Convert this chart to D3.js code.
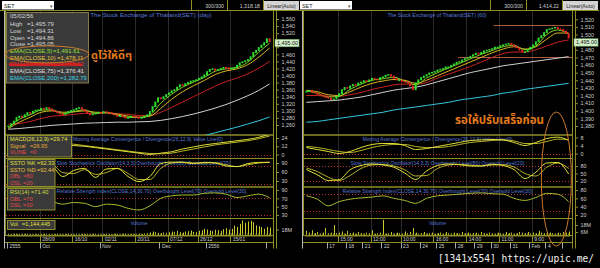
<!DOCTYPE html>
<html>
<head>
<meta charset="utf-8">
<script src="https://cdn.jsdelivr.net/npm/d3@7"></script>
<style>
  body { margin: 0; background: #000; }
  text { font-family: "Liberation Sans", Arial, sans-serif; }
</style>
</head>
<body>
<div id="my_dataviz"></div>
<script>
var width = 600
var height = 268

// ---------- SET daily (left) ----------
var closeDay = [
 1256,1262,1270,1280,1284,1281,1288,1294,1292,1298,
 1301,1302,1306,1304,1308,1305,1300,1297,1293,1290,
 1288,1292,1297,1300,1302,1306,1308,1303,1298,1292,
 1288,1290,1293,1295,1294,1297,1295,1294,1290,1287,
 1283,1285,1282,1279,1280,1284,1283,1281,1278,1280,
 1284,1288,1297,1311,1324,1336,1333,1339,1345,1350,
 1356,1359,1366,1373,1370,1376,1379,1383,1385,1387,
 1391,1395,1401,1410,1416,1418,1413,1416,1419,1422,
 1421,1417,1420,1421,1428,1435,1438,1441,1444,1452,
 1464,1470,1478,1485,1492,1503,1495
]
// lines below
var STEP = 4
var ema5Day   = [1252,1276,1289,1302,1303,1293,1298,1303,1293,1295,1288,1282,1281,1288,1322,1347,1367,1381,1395,1412,1419,1423,1438,1466,1491.6]
var ema10Day  = [1250,1268,1282,1296,1300,1296,1297,1300,1296,1295,1291,1285,1282,1285,1307,1333,1354,1371,1386,1403,1413,1419,1431,1452,1478.1]
var ema25Day  = [1262,1264,1270,1278,1285,1287,1290,1293,1293,1294,1292,1290,1287,1287,1296,1310,1325,1340,1355,1370,1383,1393,1405,1421,1440]
var ema75Day  = [1248,1250,1253,1256,1259,1261,1263,1265,1266,1267,1268,1268,1269,1270,1273,1278,1284,1291,1299,1308,1318,1330,1343,1358,1376.4]
var ema200Day = [1178,1180,1182,1185,1187,1189,1191,1193,1195,1197,1199,1201,1203,1205,1208,1212,1217,1223,1230,1238,1246,1254,1263,1272,1282.8]
var macdDay   = [14,16,17,18,17,15,13,12,10,8,6,4,2,0,2,4,8,11,14,16,18,20,22,25,29.74]
var signalDay = [12,14,15,16,17,16,15,13,11,9,7,5,3,1.5,1,2,5,8,11,14,16,18,20,23,26.95]
var stochKDay = [80,85,70,88,80,45,65,72,42,70,72,45,28,45,88,93,92,88,92,90,80,78,88,92,92.33]
var stochDDay = [78,82,76,82,84,58,55,68,52,58,72,55,35,35,72,90,93,90,90,91,84,78,84,90,92.44]
var rsiDay    = [62,66,64,66,62,56,60,58,50,56,54,46,42,52,70,76,78,78,82,83,80,72,76,80,71.4]
var volDay = [
 4,3,5,4,3,4,5,3,4,3,
 4,3,4,5,3,4,3,4,5,4,
 3,4,5,4,3,4,3,5,4,3,
 4,5,3,4,3,4,5,4,3,5,
 4,3,5,6,4,5,4,3,5,4,
 6,7,9,12,10,8,7,9,8,10,
 12,11,14,10,9,12,13,15,11,10,
 14,16,20,18,15,13,17,16,14,19,
 22,18,20,30,26,35,45,38,42,44,
 40,30,28,25,20,26,24
]
var priceTicksDay = [1560,1540,1520,1500,1480,1460,1440,1420,1400,1380,1360,1340,1320,1300,1280,1260]
var macdTicksDay = [24,12,0]
var stochTicksDay = [90,60,30]
var rsiTicksDay = [90,70,50,30]
var volTicksDay = [18]
var timeIdxDay = [12,24,35,47,59,70,82]
var timeLabDay = ["28/09","16/10","02/11","20/11","07/12","26/12","15/01"]
var monthIdxDay = [0,12,34,56,73,95]
var monthLabDay = ["2555","Oct","Nov","Dec","2556",""]
var legendLabDay = ["05/02/56","High","Low","Open","Close","EMA(CLOSE,5)","EMA(CLOSE,10)","EMA(CLOSE,25)","EMA(CLOSE,75)","EMA(CLOSE,200)"]
var legendValDay = ["","=1,495.79","=1,494.31","=1,494.86","=1,495.05","=1,491.61","=1,478.11","=1,439.52","=1,376.41","=1,282.79"]
var macdLegLab = ["MACD(26,12,9)","Signal","VLINE"]
var macdLegVal = ["=29.74","=26.95","=0"]
var stochLegLab = ["SSTO %K","SSTO %D","OBL","OSL"]
var stochLegVal = ["=92.33","=92.44","=80","=20"]
var rsiLegLab = ["RSI(14)","OBL","OSL"]
var rsiLegVal = ["=71.40","=70","=30"]
var volLegLab = ["Vol"]
var volLegVal = ["=1,144,445"]

// ---------- SET 60 min (right) ----------
var closeHour = [
 1425,1426,1424,1423,1421,1420,1419,1417,1416,1414,
 1415,1418,1422,1427,1430,1429,1432,1434,1433,1436,
 1437,1439,1438,1440,1442,1441,1440,1443,1444,1446,
 1447,1445,1442,1440,1440,1438,1437,1436,1432,1427,
 1436,1440,1443,1445,1447,1449,1450,1451,1453,1454,
 1455,1457,1457,1459,1461,1463,1464,1466,1468,1469,
 1471,1473,1475,1474,1476,1478,1479,1480,1481,1483,
 1483,1485,1486,1487,1488,1486,1484,1482,1479,1477,
 1477,1480,1483,1486,1490,1495,1498,1502,1506,1507,
 1508,1509,1507,1506,1504,1501,1495
]
var ema5Hour   = [1426,1423,1418,1419,1428,1435,1440,1442,1444,1439,1434,1443,1450,1456,1462,1468,1474,1479,1484,1486,1480,1485,1500,1506,1501]
var ema10Hour  = [1427,1425,1421,1420,1425,1431,1436,1439,1441,1440,1436,1440,1446,1452,1458,1464,1470,1476,1481,1484,1481,1484,1494,1502,1502]
var ema25Hour  = [1420,1420,1419,1419,1421,1424,1428,1431,1434,1435,1435,1437,1443,1448,1453,1458,1464,1470,1475,1477,1477,1480,1485,1490,1493]
var ema75Hour  = [1411,1412,1413,1414,1416,1418,1421,1424,1427,1429,1431,1434,1438,1442,1446,1450,1453,1456,1459,1461,1463,1465,1467,1469,1471]
var ema200Hour = [1385,1386,1388,1390,1392,1394,1396,1398,1401,1403,1405,1407,1409,1411,1414,1416,1418,1420,1423,1425,1428,1430,1432,1434,1436]
var macdHour   = [3,2,1,0,1,3,4.5,5,5,4,2,2.5,3.5,4.5,5.5,6.5,6.8,7,6.8,5.5,4,5.5,7.5,8.2,6.5]
var signalHour = [3.5,3,2,1,0.5,1.5,3,4,4.5,4.5,3.5,3,3,3.5,4.5,5.5,6,6.5,6.8,6.3,5,5,6,7.2,7]
var stochKHour = [66,45,22,25,65,82,88,84,75,52,26,60,82,88,85,80,80,87,82,66,30,55,92,94,48]
var stochDHour = [72,58,35,22,42,70,84,86,80,65,40,42,70,84,87,83,80,84,85,76,50,40,75,92,70]
var rsiHour    = [66,58,42,52,58,61,63,66,60,55,48,60,66,68,70,72,73,71,70,60,55,62,72,70,52]
var volHour = [
 8,5,9,4,6,3,5,13,4,5,
 18,4,5,7,3,8,4,5,3,6,
 4,3,5,4,9,3,4,5,27,3,
 4,6,3,5,4,3,7,4,6,13,
 5,3,4,6,3,4,5,3,4,5,
 3,6,4,3,5,4,3,6,4,5,
 3,4,5,3,6,4,3,5,4,3,
 5,4,3,6,4,5,3,4,6,5,
 4,6,3,5,4,8,5,4,6,5,
 4,3,5,4,6,5,7
]
var priceTicksHour = [1520,1510,1500,1490,1480,1470,1460,1450,1440,1430,1420,1410,1400,1390,1380]
var macdTicksHour = [8,4,0]
var stochTicksHour = [80,50,20]
var rsiTicksHour = [80,60,40,20]
var volTicksHour = [18,6]
var timeIdxHour = [12,24,35,47,59,71,83]
var timeLabHour = ["15:00","12:00","10:00","16:00","14:00","11:00","9:00"]
var dayIdxHour = [8,15,21,28,35,42,48,55,62,68,75,82,88,94]
var dayLabHour = ["17","18","21","22","23","24","25","28","29","30","31","Feb","4",""]
var levelsHour = [1512,1470]
var levelStartHour = [69,56]

var svg = d3.select("#my_dataviz")
  .append("svg")
    .attr("width", width)
    .attr("height", height)
    .style("display", "block")

svg.append("rect").attr("width", width).attr("height", height).attr("fill", "#000")

var olive = "#8e8e26"
var grey = "#cfcfcf"
var blue = "#5a78d6"
var emaColors = ["#86d424", "#d8b424", "#c82222", "#d2d2d2", "#34c6de"]

var charts = [
  { id: "day", x0: 5, x1: 273, close: closeDay,
    emas: [ema5Day, ema10Day, ema25Day, ema75Day, ema200Day],
    macd: macdDay, signal: signalDay, stochK: stochKDay, stochD: stochDDay, rsi: rsiDay, vol: volDay,
    priceTicks: priceTicksDay, priceRange: [125, 19],
    macdTicks: macdTicksDay, macdRange: [154.5, 138],
    stochTicks: stochTicksDay, stochRange: [181, 163],
    rsiTicks: rsiTicksDay, rsiRange: [215, 190],
    volTicks: volTicksDay, volRange: [235.5, 229.5],
    timeIdx: timeIdxDay, timeLab: timeLabDay, idx2: monthIdxDay, lab2: monthLabDay,
    title: "The Stock Exchange of Thailand(SET) (day)", titleX: 151, titleSize: 6.2, tagDy: 1,
    // indicator titles start right of the legend boxes
    subStart: { macd: 73, stoch: 56.5, rsi: 56.5 },
    head: ["300/300", "1,318.18"] },
  { id: "hour", x0: 303, x1: 572, close: closeHour,
    emas: [ema5Hour, ema10Hour, ema25Hour, ema75Hour, ema200Hour],
    macd: macdHour, signal: signalHour, stochK: stochKHour, stochD: stochDHour, rsi: rsiHour, vol: volHour,
    priceTicks: priceTicksHour, priceRange: [126, 19.3],
    macdTicks: macdTicksHour, macdRange: [153.5, 137.5],
    stochTicks: stochTicksHour, stochRange: [181, 166],
    rsiTicks: rsiTicksHour, rsiRange: [215, 190],
    volTicks: volTicksHour, volRange: [235.5, 225],
    timeIdx: timeIdxHour, timeLab: timeLabHour, idx2: dayIdxHour, lab2: dayLabHour,
    title: "The Stock Exchange of Thailand(SET) (60)", titleX: 437, titleSize: 5.2, tagDy: 4,
    subStart: {},
    head: ["300/300", "1,414.22"] }
]

var panel = { main: [10.5, 135], macd: [135, 158.5], stoch: [158.5, 187], rsi: [187, 218.5], vol: [218.5, 235.5] }

function drawChart(c) {
  var g = svg.append("g")
  var n = c.close.length
  var x = d3.scaleBand().domain(d3.range(n)).range([c.x0 + 2, c.x1 - 2])
  var cx = function(i) { return x(i) + x.bandwidth() / 2 }
  var sx = function(d, k) { return cx(Math.min(k * STEP, n - 1)) }
  var px = function(i) { return Math.round(x(i)) + 0.5 }

  var y = {
    main: d3.scaleLinear().domain(d3.extent(c.priceTicks)).range(c.priceRange),
    macd: d3.scaleLinear().domain(d3.extent(c.macdTicks)).range(c.macdRange),
    stoch: d3.scaleLinear().domain(d3.extent(c.stochTicks)).range(c.stochRange),
    rsi: d3.scaleLinear().domain(d3.extent(c.rsiTicks)).range(c.rsiRange),
    vol: d3.scaleLinear().domain([0, d3.max(c.volTicks)]).range(c.volRange)
  }

  var defs = g.append("defs")
  Object.keys(panel).forEach(function(k) {
    defs.append("clipPath").attr("id", "clip-" + c.id + "-" + k)
      .append("rect")
        .attr("x", c.x0).attr("y", panel[k][0])
        .attr("width", c.x1 - c.x0).attr("height", panel[k][1] - panel[k][0])
  })
  var clip = function(k) { return "url(#clip-" + c.id + "-" + k + ")" }

  // vertical grid
  g.append("g").selectAll("line").data(c.timeIdx).join("line")
    .attr("x1", px).attr("x2", px).attr("y1", 10.5).attr("y2", 235.5)
    .attr("stroke", "#2c2c2c")

  // panel frames
  Object.keys(panel).forEach(function(k) {
    g.append("rect")
      .attr("x", c.x0 + 0.5).attr("y", panel[k][0])
      .attr("width", c.x1 - c.x0).attr("height", panel[k][1] - panel[k][0])
      .attr("fill", "none").attr("stroke", olive).attr("stroke-width", 1)
  })

  // red dotted levels
  var levels = [["macd", 0], ["stoch", 80], ["stoch", 20], ["rsi", 70], ["rsi", 30]]
  g.append("g").selectAll("line").data(levels).join("line")
    .attr("x1", c.x0 + 1).attr("x2", c.x1)
    .attr("y1", function(d) { return Math.round(y[d[0]](d[1])) + 0.5 })
    .attr("y2", function(d) { return Math.round(y[d[0]](d[1])) + 0.5 })
    .attr("stroke", "#b83030").attr("stroke-dasharray", "1,2")

  // titles
  var mid = (c.x0 + c.x1) / 2
  var titles = [
    ["main", c.title, c.titleSize],
    ["macd", "Moving Average Convergence / Divergence(26,12,9) Value Line(0)", 5.1],
    ["stoch", "Slow Stochastics Oscillator(14,3,3) Overbought Level(80) Oversold Level(20)", 5.1],
    ["rsi", "Relative Strength Index(CLOSE,14,30,70) Overbought Level(70) Oversold Level(30)", 5.1],
    ["vol", "Volume", 5.1]
  ]
  g.append("g").selectAll("text").data(titles).join("text")
    .attr("x", function(d) {
      if (d[0] === "main") return c.titleX
      return c.subStart[d[0]] !== undefined ? c.subStart[d[0]] : mid
    })
    .attr("y", function(d) { return panel[d[0]][0] + 6 })
    .attr("text-anchor", function(d) { return c.subStart[d[0]] !== undefined ? "start" : "middle" })
    .attr("font-size", function(d) { return d[2] })
    .attr("fill", blue)
    .text(function(d) { return d[1] })

  // annotation levels (hand drawn)
  if (c.id === "hour") {
    g.append("g").selectAll("line").data(levelsHour).join("line")
      .attr("x1", function(d, i) { return x(levelStartHour[i]) }).attr("x2", c.x1)
      .attr("y1", function(d) { return Math.round(y.main(d)) + 0.5 })
      .attr("y2", function(d) { return Math.round(y.main(d)) + 0.5 })
      .attr("stroke", "#a85c3c").attr("stroke-width", 1)
  }

  // EMA lines
  var line = function(sc) {
    return d3.line().x(sx).y(function(d) { return sc(d) }).curve(d3.curveMonotoneX)
  }
  var emaG = g.append("g").attr("clip-path", clip("main"))
  c.emas.slice().reverse().forEach(function(s, j) {
    emaG.append("path").datum(s)
      .attr("d", line(y.main))
      .attr("fill", "none")
      .attr("stroke", emaColors[c.emas.length - 1 - j])
      .attr("stroke-width", 1)
  })

  // candles (body from previous close to close)
  var cw = x.bandwidth() * 0.72
  emaG.append("g").selectAll("rect").data(c.close).join("rect")
    .attr("x", function(d, i) { return cx(i) - cw / 2 })
    .attr("y", function(d, i) {
      var o = i ? c.close[i - 1] : d
      return y.main(Math.max(o, d)) - 0.8
    })
    .attr("width", cw)
    .attr("height", function(d, i) {
      var o = i ? c.close[i - 1] : d
      return Math.max(1.6, Math.abs(y.main(o) - y.main(d)) + 0.8)
    })
    .attr("fill", function(d, i) {
      var o = i ? c.close[i - 1] : d - 1
      return d >= o ? "#2ee02e" : "#e42424"
    })

  // MACD
  var mg = g.append("g").attr("clip-path", clip("macd"))
  mg.append("path").datum(c.signal).attr("d", line(y.macd)).attr("fill", "none").attr("stroke", "#b8b426")
  mg.append("path").datum(c.macd).attr("d", line(y.macd)).attr("fill", "none").attr("stroke", "#dede3a")

  // Stochastics
  var sg = g.append("g").attr("clip-path", clip("stoch"))
  sg.append("path").datum(c.stochD).attr("d", line(y.stoch)).attr("fill", "none").attr("stroke", "#b8b426")
  sg.append("path").datum(c.stochK).attr("d", line(y.stoch)).attr("fill", "none").attr("stroke", "#e4e43c")

  // RSI
  var rg = g.append("g").attr("clip-path", clip("rsi"))
  rg.append("path").datum(c.rsi).attr("d", line(y.rsi)).attr("fill", "none").attr("stroke", "#a8bc30")

  // Volume
  g.append("g").attr("clip-path", clip("vol")).selectAll("rect").data(c.vol).join("rect")
    .attr("x", function(d, i) { return Math.round(cx(i)) })
    .attr("y", function(d) { return y.vol(d) })
    .attr("width", 1)
    .attr("height", function(d) { return y.vol(0) - y.vol(d) })
    .attr("fill", "#c8c82a")

  // minor ticks along the time axis
  g.append("g").attr("transform", "translate(0,235.5)")
    .call(d3.axisTop(x).tickSize(2).tickSizeOuter(0).tickFormat(""))
    .call(function(a) { a.select(".domain").attr("stroke", olive) })
    .selectAll("line").attr("stroke", olive)

  // time axis rows
  g.append("line").attr("x1", c.x0).attr("x2", c.x1).attr("y1", 242.5).attr("y2", 242.5).attr("stroke", olive)
  g.append("g").selectAll("line").data(c.timeIdx).join("line")
    .attr("x1", px).attr("x2", px).attr("y1", 235.5).attr("y2", 242.5).attr("stroke", olive)
  g.append("g").selectAll("text").data(c.timeLab).join("text")
    .attr("x", function(d, i) { return x(c.timeIdx[i]) + 2.5 })
    .attr("y", 241.3).attr("font-size", 5).attr("fill", grey)
    .text(function(d) { return d })
  g.append("g").selectAll("line").data(c.idx2).join("line")
    .attr("x1", px).attr("x2", px).attr("y1", 242.5).attr("y2", 248.5).attr("stroke", "#a8a8a8")
  g.append("g").selectAll("text").data(c.lab2).join("text")
    .attr("x", function(d, i) { return x(c.idx2[i]) + 2.5 })
    .attr("y", 247.8).attr("font-size", 5).attr("fill", grey)
    .text(function(d) { return d })

  // left edge
  g.append("line").attr("x1", c.x0 - 0.5).attr("x2", c.x0 - 0.5).attr("y1", 10.5).attr("y2", 248.5).attr("stroke", "#b8b8b8")

  // y axes
  var last = c.close[n - 1]
  var tagY = y.main(last) + c.tagDy
  var ax = c.x1 + 3.5
  g.append("line").attr("x1", c.x1 + 0.5).attr("x2", c.x1 + 0.5).attr("y1", 10.5).attr("y2", 248.5).attr("stroke", olive)
  g.append("line").attr("x1", ax).attr("x2", ax).attr("y1", 10.5).attr("y2", 248.5).attr("stroke", olive)
  var axes = [
    ["main", c.priceTicks, d3.format(",")],
    ["macd", c.macdTicks, d3.format("d")],
    ["stoch", c.stochTicks, d3.format("d")],
    ["rsi", c.rsiTicks, d3.format("d")],
    ["vol", c.volTicks, function(d) { return d + "M" }]
  ]
  axes.forEach(function(a) {
    g.append("g").attr("transform", "translate(" + ax + ",0)")
      .call(d3.axisRight(y[a[0]]).tickValues(a[1]).tickSize(2.5).tickSizeOuter(0).tickPadding(2.5).tickFormat(a[2]))
      .call(function(s) {
        s.select(".domain").remove()
        s.selectAll("line").attr("stroke", olive)
        s.selectAll("text").attr("fill", grey).attr("font-size", 5.4).attr("font-family", "Liberation Sans, Arial, sans-serif")
        // the last-price tag hides the labels under it
        if (a[0] === "main") {
          s.selectAll(".tick").filter(function(d) { return Math.abs(y.main(d) - tagY) < 5.5 }).select("text").remove()
        }
      })
  })

  // last price tag
  g.append("rect").attr("x", c.x1 + 2).attr("y", tagY - 3.6).attr("width", 24).attr("height", 7.4)
    .attr("fill", "#d6f2cc").attr("stroke", "#7fb070").attr("stroke-width", 0.6)
  g.append("text").attr("x", c.x1 + 4).attr("y", tagY + 2).attr("font-size", 5.4).attr("fill", "#111")
    .text(d3.format(",.2f")(last))

  // header bar
  g.append("line").attr("x1", c.x0 - 5).attr("x2", c.x1 + 27).attr("y1", 10.5).attr("y2", 10.5).attr("stroke", olive)
  g.append("rect").attr("x", c.x0 - 3).attr("y", 1).attr("width", 52).attr("height", 8.5).attr("fill", "#fff")
  g.append("text").attr("x", c.x0 - 1).attr("y", 7.6).attr("font-size", 5.4).attr("fill", "#222").text("SET")
  g.append("text").attr("x", c.x0 + 45).attr("y", 7.6).attr("font-size", 5).attr("fill", "#555").text("\u25BE")
  var sep = [c.x1 - 82, c.x1 - 46, c.x1 - 10]
  g.append("g").selectAll("line").data(sep).join("line")
    .attr("x1", function(d) { return d + 0.5 }).attr("x2", function(d) { return d + 0.5 })
    .attr("y1", 0).attr("y2", 10.5).attr("stroke", olive)
  g.append("g").selectAll("text").data(c.head).join("text")
    .attr("x", function(d, i) { return sep[i + 1] - 3 })
    .attr("y", 7.6).attr("text-anchor", "end").attr("font-size", 5.2).attr("fill", grey)
    .text(function(d) { return d })
  g.append("rect").attr("x", c.x1 - 9).attr("y", 1).attr("width", 35).attr("height", 9).attr("fill", "#d4d4d4")
  g.append("text").attr("x", c.x1 + 8.5).attr("y", 7.6).attr("text-anchor", "middle").attr("font-size", 5.2).attr("fill", "#222").text("Linear(Auto)")

  c.x = x
  c.y = y
}

charts.forEach(drawChart)

// ---------- legend boxes (daily chart) ----------
var lg = svg.append("g")
lg.append("rect").attr("x", 6.5).attr("y", 12.5).attr("width", 82).attr("height", 70.5)
  .attr("fill", "#3a3a3a").attr("stroke", "#857848")
var legColors = ["#d8d8d8", "#d8d8d8", "#d8d8d8", "#d8d8d8", "#d8d8d8", "#92e030", "#e6c63a", "#e03030", "#e2e2e2", "#3ed2e4"]
var legValX = [0, 27, 27, 27, 27, 53, 57, 57, 57, 60]
var rowY = function(k) { return k === 0 ? 17.5 : 19.8 + k * 6.65 }
lg.selectAll(".ll").data(legendLabDay).join("text")
  .attr("x", 10).attr("y", function(d, k) { return rowY(k) })
  .attr("font-size", 6).attr("fill", function(d, k) { return legColors[k] })
  .text(function(d) { return d })
lg.selectAll(".lv").data(legendValDay).join("text")
  .attr("x", function(d, k) { return legValX[k] }).attr("y", function(d, k) { return rowY(k) })
  .attr("font-size", 6).attr("fill", function(d, k) { return legColors[k] })
  .text(function(d) { return d })
// red scribble over the EMA(25) row
var ry = rowY(7) - 2
lg.append("path")
  .attr("d", d3.line().curve(d3.curveBasis)([[9, ry], [22, ry + 1.2], [38, ry - 1], [55, ry + 1.2], [70, ry - 0.8], [82, ry + 0.6]]))
  .attr("fill", "none").attr("stroke", "#d42020").attr("stroke-width", 2.6)
// orange ellipse round EMA5 / EMA10
lg.append("ellipse").attr("cx", 47).attr("cy", (rowY(5) + rowY(6)) / 2 - 2).attr("rx", 42).attr("ry", 8.5)
  .attr("fill", "none").attr("stroke", "#c8782c").attr("stroke-width", 1)

function indLegend(top, h, w, labs, vals, valX, colors) {
  var b = svg.append("g")
  b.append("rect").attr("x", 7.5).attr("y", top).attr("width", w).attr("height", h)
    .attr("fill", "#3a3a3a").attr("stroke", "#8e8e30")
  b.selectAll(".a").data(labs).join("text")
    .attr("x", 10).attr("y", function(d, k) { return top + 5.6 + k * 6.6 })
    .attr("font-size", 5.6).attr("fill", function(d, k) { return colors[k] })
    .text(function(d) { return d })
  b.selectAll(".b").data(vals).join("text")
    .attr("x", function(d, k) { return valX[k] }).attr("y", function(d, k) { return top + 5.6 + k * 6.6 })
    .attr("font-size", 5.6).attr("fill", function(d, k) { return colors[k] })
    .text(function(d) { return d })
}
indLegend(135.5, 21.5, 64, macdLegLab, macdLegVal, [50, 30, 30], ["#e0e03e", "#e6a83a", "#e24a4a"])
indLegend(159.5, 27, 47.5, stochLegLab, stochLegVal, [37, 37, 23, 23], ["#e0e03e", "#e6c03a", "#e24a4a", "#e24a4a"])
indLegend(188.5, 21.5, 47.5, rsiLegLab, rsiLegVal, [31, 23, 23], ["#d8dc3e", "#e24a4a", "#e24a4a"])
indLegend(220.5, 9, 47.5, volLegLab, volLegVal, [22], ["#e0e03e"])

// ---------- hand written notes ----------
var hour = charts[1]
svg.append("text").attr("x", 91).attr("y", 58.5)
  .attr("font-size", 11).attr("font-weight", "bold").attr("fill", "#e27a1c")
  .style("font-family", "'Noto Sans Thai', 'Noto Serif Thai', Loma, Garuda, sans-serif")
  .text("ดูไว้ให้ดีๆ")
svg.append("text").attr("x", 455).attr("y", 124)
  .attr("font-size", 11.5).attr("font-weight", "bold").attr("fill", "#e27a1c")
  .style("font-family", "'Noto Sans Thai', 'Noto Serif Thai', Loma, Garuda, sans-serif")
  .text("รอให้ปรับเสร็จก่อน")
svg.append("ellipse")
  .attr("cx", hour.x(92)).attr("cy", (112 + 246) / 2).attr("rx", 15).attr("ry", 67)
  .attr("fill", "none").attr("stroke", "#c8782c").attr("stroke-width", 1)

// watermark
svg.append("text").attr("x", 594).attr("y", 262).attr("text-anchor", "end")
  .attr("font-size", 9.6).attr("fill", "#f2f2f2")
  .style("font-family", "'DejaVu Sans Mono', monospace")
  .text("[1341x554] https://upic.me/")
</script>
</body>
</html>
